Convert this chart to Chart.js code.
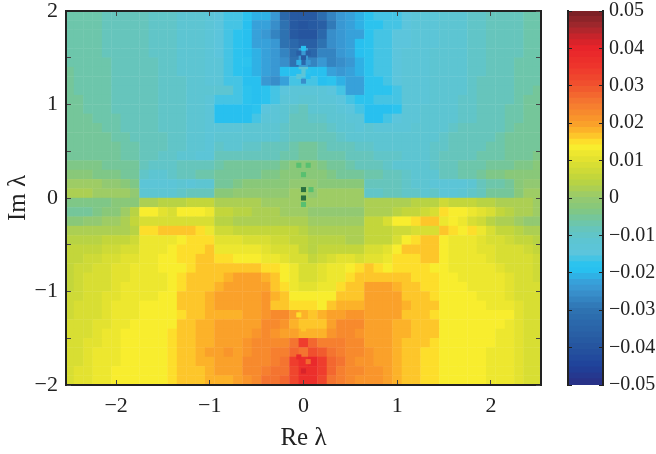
<!DOCTYPE html>
<html>
<head>
<meta charset="utf-8">
<script src="https://cdn.jsdelivr.net/npm/chart.js@4/dist/chart.umd.min.js"></script>
<style>
html, body { margin: 0; padding: 0; background: #fff; }
#wrap { position: relative; width: 656px; height: 454px; overflow: hidden; }
canvas { position: absolute; top: 0; }
</style>
</head>
<body>
<div id="wrap">
    <canvas id="mapChart"></canvas>
    <canvas id="barChart"></canvas>
</div>
<script>
// Axis values
const reValues = [-2.5,-2.4,-2.3,-2.2,-2.1,-2.0,-1.9,-1.8,-1.7,-1.6,-1.5,-1.4,-1.3,-1.2,-1.1,-1.0,-0.9,-0.8,-0.7,-0.6,-0.5,-0.4,-0.3,-0.2,-0.1,0,0.1,0.2,0.3,0.4,0.5,0.6,0.7,0.8,0.9,1.0,1.1,1.2,1.3,1.4,1.5,1.6,1.7,1.8,1.9,2.0,2.1,2.2,2.3,2.4,2.5];
const imValues = [1.95,1.85,1.75,1.65,1.55,1.45,1.35,1.25,1.15,1.05,0.95,0.85,0.75,0.65,0.55,0.45,0.35,0.25,0.15,0.05,-0.05,-0.15,-0.25,-0.35,-0.45,-0.55,-0.65,-0.75,-0.85,-0.95,-1.05,-1.15,-1.25,-1.35,-1.45,-1.55,-1.65,-1.75,-1.85,-1.95];
const xTicks = [-2, -1, 0, 1, 2];

// Values, in units of 0.001, one row per imValues entry
const field = [
[-7,-7,-7,-7,-8,-8,-8,-9,-9,-10,-10,-10,-11,-11,-12,-13,-15,-16,-17,-18,-21,-21,-24,-33,-38,-38,-38,-32,-27,-25,-23,-21,-18,-17,-17,-16,-15,-14,-13,-13,-12,-12,-11,-10,-10,-9,-9,-8,-8,-7,-7],
[-7,-7,-7,-7,-8,-8,-8,-9,-9,-10,-10,-10,-11,-11,-12,-13,-15,-16,-17,-19,-22,-23,-26,-30,-38,-40,-38,-36,-29,-25,-23,-21,-18,-18,-17,-16,-15,-14,-13,-13,-12,-12,-11,-10,-10,-9,-9,-8,-8,-7,-7],
[-7,-7,-7,-7,-8,-8,-8,-9,-9,-10,-10,-10,-11,-11,-12,-13,-15,-16,-18,-19,-22,-25,-27,-31,-38,-40,-40,-33,-26,-24,-22,-22,-18,-17,-17,-15,-15,-14,-13,-13,-12,-12,-11,-10,-10,-9,-9,-8,-8,-7,-7],
[-7,-7,-7,-7,-8,-8,-8,-9,-9,-10,-10,-10,-11,-11,-12,-13,-15,-17,-18,-19,-22,-23,-25,-30,-34,-36,-36,-30,-26,-24,-22,-19,-18,-17,-16,-15,-15,-14,-13,-13,-12,-12,-11,-10,-10,-9,-9,-8,-8,-7,-7],
[-7,-7,-7,-7,-8,-8,-8,-9,-9,-10,-10,-10,-11,-11,-12,-13,-15,-17,-18,-19,-21,-22,-24,-28,-32,-24,-34,-27,-27,-25,-23,-20,-18,-17,-16,-15,-14,-14,-13,-12,-12,-12,-11,-10,-10,-9,-9,-8,-8,-7,-7],
[-7,-7,-7,-7,-7,-8,-8,-9,-9,-9,-10,-10,-11,-11,-12,-13,-14,-17,-18,-18,-21,-22,-24,-26,-30,-25,-28,-25,-27,-26,-24,-21,-18,-17,-16,-15,-14,-13,-13,-12,-12,-11,-11,-10,-10,-9,-9,-8,-7,-7,-7],
[-6,-7,-7,-7,-7,-8,-8,-9,-9,-9,-10,-10,-11,-11,-12,-13,-14,-16,-18,-19,-21,-23,-24,-20,-19,-14,-19,-20,-22,-24,-23,-21,-18,-17,-16,-15,-14,-13,-13,-12,-12,-11,-11,-10,-10,-9,-9,-8,-7,-7,-7],
[-6,-7,-7,-7,-7,-8,-8,-9,-9,-9,-10,-10,-10,-11,-12,-13,-14,-16,-17,-19,-20,-25,-26,-22,-16,-16,-17,-19,-18,-21,-23,-22,-18,-18,-17,-15,-14,-13,-13,-12,-12,-11,-11,-10,-9,-9,-9,-8,-7,-7,-7],
[-6,-7,-7,-7,-7,-8,-8,-8,-9,-9,-10,-10,-10,-11,-12,-12,-12,-12,-17,-18,-20,-18,-17,-15,-14,-13,-14,-14,-15,-17,-22,-22,-18,-18,-18,-17,-14,-13,-13,-12,-12,-11,-11,-10,-9,-9,-8,-8,-7,-7,-6],
[-6,-6,-7,-7,-7,-8,-8,-8,-9,-9,-10,-10,-10,-11,-12,-13,-17,-17,-17,-18,-19,-18,-16,-14,-13,-12,-12,-13,-13,-15,-17,-18,-18,-17,-16,-16,-14,-13,-13,-12,-12,-11,-10,-10,-9,-9,-8,-8,-7,-6,-6],
[-6,-6,-7,-7,-7,-8,-8,-9,-9,-9,-10,-10,-10,-11,-12,-13,-19,-20,-20,-20,-18,-15,-13,-12,-10,-9,-11,-11,-12,-13,-15,-17,-19,-20,-20,-18,-14,-13,-12,-12,-12,-11,-10,-10,-9,-9,-8,-7,-7,-6,-6],
[-5,-6,-6,-7,-7,-7,-8,-8,-9,-9,-10,-10,-10,-11,-12,-13,-19,-20,-20,-19,-16,-14,-13,-12,-9,-9,-10,-10,-11,-12,-13,-14,-20,-19,-17,-15,-13,-13,-12,-12,-11,-11,-10,-10,-9,-9,-8,-7,-7,-6,-6],
[-5,-5,-6,-6,-7,-7,-8,-8,-9,-9,-10,-10,-10,-11,-12,-13,-14,-13,-13,-12,-12,-12,-11,-10,-9,-9,-9,-9,-10,-11,-12,-13,-12,-13,-14,-14,-13,-12,-12,-11,-11,-10,-9,-9,-8,-8,-8,-7,-6,-6,-5],
[-5,-5,-6,-6,-6,-7,-7,-8,-8,-9,-9,-10,-10,-11,-12,-13,-12,-12,-12,-12,-11,-11,-11,-10,-9,-8,-8,-8,-9,-10,-11,-12,-12,-12,-12,-12,-12,-12,-11,-11,-10,-9,-9,-8,-8,-8,-7,-6,-6,-5,-5],
[-5,-5,-5,-6,-6,-6,-7,-7,-8,-9,-9,-10,-10,-11,-12,-13,-10,-11,-11,-10,-10,-9,-9,-8,-7,-6,-6,-7,-8,-8,-9,-10,-10,-11,-11,-12,-12,-12,-11,-10,-10,-9,-9,-8,-8,-7,-7,-6,-6,-5,-5],
[-5,-5,-5,-6,-6,-6,-7,-7,-8,-9,-10,-10,-11,-12,-13,-13,-9,-9,-9,-8,-8,-8,-8,-7,-7,-5,-6,-7,-7,-7,-8,-9,-9,-10,-10,-10,-11,-12,-11,-10,-9,-8,-8,-8,-7,-7,-7,-6,-5,-5,-4],
[-4,-4,-4,-4,-5,-5,-6,-6,-9,-10,-10,-10,-9,-9,-8,-8,-7,-6,-6,-6,-5,-5,-5,-4,-3,-3,-3,-4,-5,-6,-7,-8,-9,-9,-10,-11,-12,-12,-11,-10,-9,-8,-7,-7,-7,-6,-6,-5,-4,-4,-3],
[-3,-2,-3,-4,-4,-4,-5,-5,-10,-11,-11,-10,-9,-8,-7,-7,-6,-5,-5,-5,-5,-4,-4,-3,-2,-2,-2,-3,-4,-5,-5,-6,-7,-7,-8,-9,-10,-12,-12,-11,-8,-8,-7,-7,-6,-4,-4,-3,-2,-2,-2],
[1,1,1,0,-1,-1,-3,-4,-13,-14,-14,-13,-11,-14,-12,-11,-5,-5,-4,-3,-3,-2,-2,-2,-1,-1,-1,-2,-2,-2,-3,-3,-9,-9,-9,-9,-10,-12,-11,-13,-14,-14,-14,-12,-8,-7,-7,-6,-2,-1,-1],
[2,2,2,1,1,0,0,-1,-12,-12,-11,-11,-10,-9,-9,-8,-2,-2,-1,-1,-1,-1,-1,-1,0,0,-1,0,0,0,0,0,-10,-10,-9,-9,-10,-10,-11,-10,-13,-13,-12,-10,-8,-6,-5,-5,-2,0,1],
[-4,-4,-4,-4,-4,-3,-3,-3,3,3,4,4,4,5,5,6,3,3,2,2,2,1,1,0,0,1,1,1,1,1,1,1,2,3,3,3,3,4,4,4,7,6,5,5,4,4,3,3,2,2,1],
[-5,-5,-5,-4,-3,-2,1,4,13,13,10,9,13,13,13,12,5,5,4,4,2,2,2,1,0,1,-1,-1,-1,-1,-1,-1,2,2,3,4,5,6,7,9,15,14,14,12,10,8,5,4,3,2,1],
[-2,-2,-1,-1,0,1,3,6,9,9,9,9,8,8,8,8,4,4,3,3,3,3,2,2,2,2,1,1,0,0,0,0,5,6,9,13,13,15,16,17,12,13,12,8,7,4,3,2,1,-1,-1],
[3,3,2,2,2,2,3,4,15,15,17,17,17,16,15,12,7,7,6,6,5,5,5,5,5,4,3,3,3,3,3,3,5,5,5,7,7,8,8,8,16,15,14,15,11,8,6,5,4,3,3],
[4,4,4,4,5,5,6,7,12,12,12,12,13,15,15,15,10,10,10,9,8,8,7,7,6,5,4,4,4,4,3,3,5,5,6,8,14,15,16,17,13,12,12,11,10,9,8,7,6,5,4],
[5,5,6,6,7,7,8,9,12,12,12,13,15,15,15,16,11,12,12,12,11,10,9,9,8,6,4,5,5,6,6,6,9,9,10,13,16,17,17,16,13,12,12,11,10,10,9,9,8,7,6],
[5,6,7,7,8,9,10,10,12,12,13,13,15,15,16,17,15,15,13,13,13,12,12,10,9,8,6,7,9,10,10,9,10,10,12,15,15,15,16,16,13,12,12,11,11,10,9,9,8,8,7],
[6,7,7,8,9,10,10,11,12,12,13,13,14,15,16,17,16,16,16,17,17,15,15,13,11,9,8,10,12,12,13,15,16,15,14,15,15,15,15,14,13,12,12,12,11,11,10,9,8,8,7],
[6,7,8,8,9,10,10,11,12,12,12,14,15,16,17,17,17,18,19,19,19,18,16,14,11,9,9,10,11,12,15,16,17,17,17,17,16,15,15,15,13,13,12,12,12,11,11,10,9,8,7],
[6,7,8,9,9,10,11,11,12,12,12,13,15,16,17,17,18,19,19,19,19,19,17,15,11,10,10,11,12,15,16,17,20,20,19,18,17,16,15,15,13,13,13,12,12,12,11,10,9,9,8],
[7,7,8,9,10,10,11,12,12,12,13,13,16,17,17,18,20,20,20,20,20,21,18,16,14,14,14,14,14,17,17,17,19,20,20,19,17,16,16,15,13,13,13,13,12,12,11,10,9,9,8],
[7,8,8,9,10,11,11,12,13,13,13,14,16,17,17,18,20,20,20,20,20,21,17,17,15,15,15,14,17,18,18,18,19,20,20,20,18,17,16,16,13,13,13,13,13,12,12,11,10,9,8],
[7,8,9,9,10,11,12,12,13,13,13,13,15,16,17,18,18,18,18,19,20,21,22,22,20,18,17,18,20,20,21,21,20,19,19,19,17,17,16,15,13,13,13,13,13,13,13,13,10,9,8],
[8,8,9,10,10,12,12,13,13,13,14,14,16,17,18,18,19,19,19,20,20,22,22,21,18,17,16,17,20,22,22,22,20,19,19,18,18,16,16,16,14,13,13,13,13,13,13,12,10,9,8],
[8,9,9,10,11,12,13,13,13,14,14,15,16,17,18,18,19,19,19,20,21,22,21,20,19,18,18,18,21,22,22,21,20,19,19,18,18,17,16,16,14,13,13,13,13,13,12,12,10,9,8],
[8,9,10,10,11,12,13,13,13,14,14,15,16,17,18,18,20,20,20,21,22,22,23,23,26,33,28,24,24,24,23,22,20,19,19,18,17,16,16,15,14,13,13,13,13,13,12,12,10,9,8],
[9,9,10,11,11,12,13,13,13,14,14,15,16,17,18,19,20,21,20,21,22,23,24,24,27,26,30,29,25,24,23,23,21,20,19,18,17,16,15,15,14,13,13,13,13,12,12,11,10,9,8],
[9,9,10,11,11,12,13,13,13,13,14,15,16,17,18,18,19,20,20,22,23,22,24,25,33,37,38,34,28,25,22,21,21,20,19,18,17,16,15,15,14,13,13,13,13,12,12,11,10,9,8],
[9,10,10,11,12,13,13,13,13,14,14,15,16,17,17,18,19,19,20,22,23,24,25,26,32,37,36,33,28,24,23,22,21,21,19,18,17,16,15,15,14,13,13,13,13,12,12,11,10,9,8],
[9,10,10,11,12,13,13,13,13,14,14,15,16,17,17,18,18,18,19,21,23,25,26,27,32,36,37,32,26,24,22,21,21,21,19,18,17,16,15,15,14,13,13,13,13,12,12,11,10,9,8]
];

// Finer cells around the centre line where the checker pattern shows
const fineRe = [0,-0.05,0.05,0,0,-0.05,0.05,0,0.05,-0.05,0,0.05,-0.05,-0.05,0,0,0.05,0,-0.05];
const fineIm = [1.6,1.55,1.55,1.5,1.45,1.45,1.45,1.35,1.35,1.35,1.25,1.3,1.3,-1.25,-1.4,-1.85,-1.75,-1.65,-1.7];
const fineVal = [-19,-36,-36,-38,-34,-21,-24,-13,-18,-19,-26,-19,-14,15,16,41,27,26,38];

// Dark and mid green specks near the origin
const darkRe = [0, 0];
const darkIm = [0.09, 0.0];
const midRe = [0, -0.05, 0.05, 0, 0.08];
const midIm = [-0.07, 0.35, 0.35, 0.25, 0.09];

// Colour bar
const barLevels = 64;
const barTicks = [-0.05,-0.04,-0.03,-0.02,-0.01,0,0.01,0.02,0.03,0.04,0.05];
const colorStops = [
    [-50,'#2a2f85'],[-45,'#1f429b'],[-40,'#26559f'],[-30,'#2e73b2'],[-25,'#3a93cf'],[-22,'#36a5dd'],
    [-20,'#27bfef'],[-18,'#2bc3ee'],[-15,'#5cc5dc'],[-12,'#5cc5d4'],[-9,'#64c5c0'],[-6,'#72c6a0'],
    [-3,'#85c87c'],[0,'#97ca6e'],[3,'#b2d14b'],[5,'#c0d53c'],[10,'#e2e130'],[13.5,'#f9ee2e'],
    [15,'#fedc2b'],[17,'#fdbd29'],[20,'#fa9c2a'],[25,'#f57a30'],[30,'#f0522e'],[35,'#ee352c'],
    [40,'#e8232a'],[43,'#c7242b'],[46,'#9e272c'],[50,'#752024']
];

function hexToRgb(hex) {
    return [1, 3, 5].map(i => parseInt(hex.slice(i, i + 2), 16));
}

// Colour of a value in thousandths, snapped to the bar's levels
function colorFor(v) {
    const step = 100 / barLevels;
    const level = Math.min(barLevels - 1, Math.max(0, Math.floor((v + 50) / step)));
    const mid = -50 + (level + 0.5) * step;
    let i = 0;
    while (i < colorStops.length - 2 && mid > colorStops[i + 1][0]) i++;
    const [v0, c0] = colorStops[i];
    const [v1, c1] = colorStops[i + 1];
    const t = (mid - v0) / (v1 - v0);
    const a = hexToRgb(c0), b = hexToRgb(c1);
    return `rgb(${a.map((c, k) => Math.round(c + (b[k] - c) * t)).join(',')})`;
}

const INK = '#222';
const minus = s => String(s).replace('-', '\u2212');

// Point radius that gives a rect of the wanted width in data units
function rectRadius(ctx, width) {
    const s = ctx.chart.scales.x;
    return (Math.abs(s.getPixelForValue(width) - s.getPixelForValue(0)) + 0.4) / Math.SQRT2;
}

// Tick labels at the ends of an axis must not push the plot area in
function noEdgePadding(s) {
    s.paddingTop = 0;
    s.paddingBottom = 0;
    s.paddingLeft = 0;
    s.paddingRight = 0;
}

function renderMap() {
    const canvas = document.getElementById('mapChart');
    canvas.style.left = '0px';
    canvas.width = 552;
    canvas.height = 454;

    const cells = [];
    imValues.forEach((im, r) => reValues.forEach((re, c) => {
        cells.push({ x: re, y: im, v: field[r][c] });
    }));
    const fine = fineRe.map((re, i) => ({ x: re, y: fineIm[i], v: fineVal[i] }));

    const cellColors = cells.map(p => colorFor(p.v));
    const fineColors = fine.map(p => colorFor(p.v));

    const mirror = { min: -2.535, max: 2.535, ticks: { display: false, stepSize: 1, includeBounds: false },
        grid: { drawOnChartArea: false, tickLength: -5, color: '#444', z: 1 }, border: { color: INK, width: 2, z: 1 },
        afterFit: s => { s.height = 0; noEdgePadding(s); } };
    const mirrorY = { min: -2, max: 2, ticks: { display: false, stepSize: 0.5, includeBounds: false },
        grid: { drawOnChartArea: false, tickLength: -5, color: '#444', z: 1 }, border: { color: INK, width: 2, z: 1 },
        position: 'right', afterFit: s => { s.width = 0; noEdgePadding(s); } };

    new Chart(canvas, {
        type: 'scatter',
        data: {
            datasets: [
                { data: darkRe.map((re, i) => ({ x: re, y: darkIm[i] })), pointStyle: 'rect', backgroundColor: '#2a7040',
                  borderWidth: 0, pointRadius: c => rectRadius(c, 0.05) },
                { data: midRe.map((re, i) => ({ x: re, y: midIm[i] })), pointStyle: 'rect', backgroundColor: '#58c070',
                  borderWidth: 0, pointRadius: c => rectRadius(c, 0.05) },
                { data: fine, pointStyle: 'rect', backgroundColor: fineColors,
                  borderWidth: 0, pointRadius: c => rectRadius(c, 0.05) },
                { data: cells, pointStyle: 'rect', backgroundColor: cellColors,
                  borderWidth: 0, pointRadius: c => rectRadius(c, 0.1) }
            ]
        },
        options: {
            responsive: false,
            animation: false,
            events: [],
            layout: { padding: { top: 11, right: 11, left: 0, bottom: 0 } },
            plugins: { legend: { display: false }, tooltip: { enabled: false } },
            scales: {
                x: {
                    type: 'linear', min: -2.535, max: 2.535,
                    afterBuildTicks: s => { s.ticks = xTicks.map(value => ({ value })); },
                    afterFit: s => { s.height = 69; noEdgePadding(s); },
                    grid: { drawOnChartArea: false, tickLength: -5, color: '#444', z: 1 },
                    border: { color: INK, width: 2, z: 1 },
                    ticks: { font: { family: 'Liberation Serif', size: 22 }, color: INK, padding: 13, maxRotation: 0,
                        callback: v => minus(v) },
                    title: { display: true, text: 'Re \u03BB', font: { family: 'Liberation Serif', size: 25 }, color: INK, padding: { top: 0, bottom: 1 } }
                },
                y: {
                    min: -2, max: 2,
                    ticks: { font: { family: 'Liberation Serif', size: 22 }, color: INK, padding: 13, stepSize: 0.5, includeBounds: false,
                        callback: v => Number.isInteger(v) ? minus(v) : '' },
                    afterFit: s => { s.width = 66; noEdgePadding(s); },
                    grid: { drawOnChartArea: false, tickLength: -5, color: '#444', z: 1 },
                    border: { color: INK, width: 2, z: 1 },
                    title: { display: true, text: 'Im \u03BB', font: { family: 'Liberation Serif', size: 25 }, color: INK, padding: { top: 3, bottom: 0 } }
                },
                x2: Object.assign({ type: 'linear', position: 'top' }, mirror),
                y2: Object.assign({ type: 'linear' }, mirrorY)
            }
        }
    });
}

function renderColorBar() {
    const canvas = document.getElementById('barChart');
    canvas.style.left = '560px';
    canvas.width = 96;
    canvas.height = 454;

    const step = 0.1 / barLevels;
    const datasets = [];
    for (let i = 0; i < barLevels; i++) {
        const lo = -0.05 + i * step;
        datasets.push({
            data: [[lo, lo + step * 1.1]],
            backgroundColor: colorFor((lo + step / 2) * 1000),
            borderWidth: 0,
            barPercentage: 1,
            categoryPercentage: 1,
            grouped: false
        });
    }

    new Chart(canvas, {
        type: 'bar',
        data: { labels: [''], datasets },
        options: {
            responsive: false,
            animation: false,
            events: [],
            layout: { padding: { top: 11, bottom: 69, left: 8, right: 0 } },
            plugins: { legend: { display: false }, tooltip: { enabled: false } },
            scales: {
                x: { display: false },
                y: {
                    position: 'right', min: -0.05, max: 0.05,
                    afterBuildTicks: s => { s.ticks = barTicks.map(value => ({ value })); },
                    afterFit: s => { s.width = 53; noEdgePadding(s); },
                    grid: { drawOnChartArea: false, tickLength: -4, color: INK, z: 1 },
                    border: { color: INK, width: 2, z: 1 },
                    ticks: { font: { family: 'Liberation Serif', size: 20 }, color: INK, padding: 10,
                        callback: v => minus(Math.round(v * 100) / 100) }
                },
                y2: {
                    position: 'left', min: -0.05, max: 0.05,
                    afterBuildTicks: s => { s.ticks = barTicks.map(value => ({ value })); },
                    afterFit: s => { s.width = 0; noEdgePadding(s); },
                    grid: { drawOnChartArea: false, tickLength: -4, color: INK, z: 1 },
                    border: { color: INK, width: 2, z: 1 },
                    ticks: { display: false }
                }
            }
        }
    });
}

renderMap();
renderColorBar();
</script>
</body>
</html>
